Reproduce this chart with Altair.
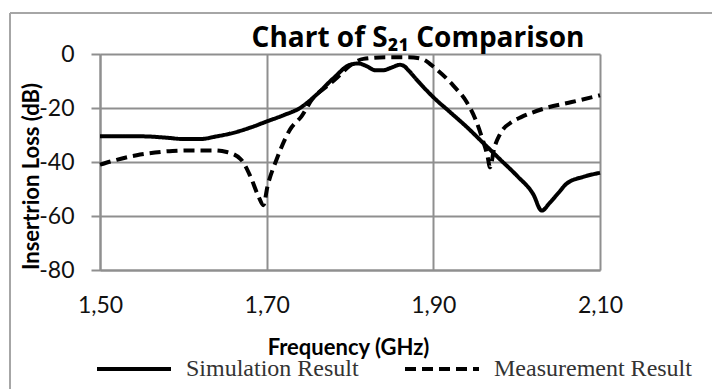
import altair as alt
import pandas as pd

# ---- data ----
sim_f = [1.50, 1.55, 1.58, 1.60, 1.62, 1.64, 1.66, 1.68, 1.70, 1.72, 1.74, 1.76, 1.78,
         1.80, 1.81, 1.82, 1.83, 1.84, 1.85, 1.86, 1.865, 1.87, 1.88, 1.90, 1.92, 1.94,
         1.96, 1.98, 2.00, 2.02, 2.03, 2.04, 2.05, 2.06, 2.08, 2.10]
sim_db = [-30.5, -30.5, -31, -31.5, -31.5, -30.5, -29.2, -27.3, -25, -22.7, -20, -15, -9,
          -4, -3.5, -4.5, -6, -6, -5, -4, -4.5, -6, -9.5, -16, -21.5, -27,
          -33, -39, -45, -52, -58, -55, -51.5, -48, -45.5, -44]

meas_f = [1.50, 1.52, 1.544, 1.566, 1.587, 1.61, 1.636, 1.652, 1.669, 1.68, 1.69, 1.696,
          1.701, 1.712, 1.728, 1.742, 1.755, 1.77, 1.783, 1.80, 1.816, 1.843, 1.87, 1.886,
          1.903, 1.924, 1.94, 1.951, 1.959, 1.965, 1.968, 1.973, 1.98, 1.995, 2.006, 2.033,
          2.066, 2.10]
meas_db = [-41, -39.2, -37.5, -36.5, -35.9, -35.7, -35.7, -36.3, -39, -45, -52.6, -56,
           -49, -39, -28, -23, -16.6, -12.5, -9.2, -4.3, -1.8, -1.2, -1.2, -1.8,
           -5.5, -11.7, -17.8, -24.5, -31.6, -37.8, -42, -35, -29.7, -25, -23.3, -20.2,
           -17.8, -15.3]

series_names = ["Simulation Result", "Measurement Result"]
x_ticks = [1.5, 1.7, 1.9, 2.1]
y_ticks = [0, -20, -40, -60, -80]
chart_title = "Chart of S₂₁ Comparison"

df = pd.concat([
    pd.DataFrame({"f": sim_f, "db": sim_db, "s": series_names[0]}),
    pd.DataFrame({"f": meas_f, "db": meas_db, "s": series_names[1]}),
])

GRID = "#8f8f8f"

lines = alt.Chart(df).mark_line(strokeWidth=4, color="black", interpolate="monotone").encode(
    x=alt.X("f:Q", scale=alt.Scale(domain=[1.5, 2.1], nice=False, zero=False),
            axis=alt.Axis(values=x_ticks, labelExpr="replace(format(datum.value, '.2f'), '.', ',')",
                          title="Frequency (GHz)", grid=True, gridColor=GRID, gridWidth=2,
                          domainColor=GRID, domainWidth=2, ticks=False, labelFlush=False,
                          labelFont="Lato", labelFontSize=23, labelColor="#111",
                          labelPadding=24, titleFont="Lato", titleFontSize=22,
                          titleFontWeight="bold", titleColor="black",
                          titleX=248, titleY=84, titleBaseline="alphabetic")),
    y=alt.Y("db:Q", scale=alt.Scale(domain=[-80, 0], nice=False),
            axis=alt.Axis(values=y_ticks, title="Insertrion Loss (dB)", grid=True,
                          labelExpr="datum.value + ''", labelFlush=False,
                          gridColor=GRID, gridWidth=2, domainColor=GRID, domainWidth=2,
                          ticks=True, tickSize=9, tickColor=GRID, tickWidth=2,
                          labelFont="Lato", labelFontSize=23, labelColor="#111",
                          labelPadding=17, titleFont="Lato", titleFontSize=22,
                          titleFontWeight="bold", titleColor="black",
                          titleX=-69, titleY=122, titleAngle=270, titleAlign="center",
                          titleBaseline="middle")),
    strokeDash=alt.StrokeDash("s:N", scale=alt.Scale(domain=series_names, range=[[1, 0], [11, 6]]),
                              legend=alt.Legend(title=None, orient="none", direction="horizontal",
                                                legendX=-5, legendY=276, symbolType="stroke",
                                                symbolSize=5476, symbolStrokeWidth=4,
                                                symbolStrokeColor="black", labelOffset=13,
                                                columnPadding=38, padding=0,
                                                labelFont="Liberation Serif", labelFontSize=24,
                                                labelColor="#333", labelLimit=400)),
)

one = pd.DataFrame({"k": [0]})
frame_left = alt.Chart(one).mark_rule(color="#a6a6a6", strokeWidth=2).encode(
    x=alt.value(-90), y=alt.value(-41), y2=alt.value(345))
frame_top = alt.Chart(one).mark_rule(color="#a6a6a6", strokeWidth=2).encode(
    x=alt.value(-90), x2=alt.value(620), y=alt.value(-41))
title_text = alt.Chart(one).mark_text(text=chart_title, font="Open Sans", fontSize=28,
                                      fontWeight="bold", color="black", align="center",
                                      baseline="alphabetic").encode(
    x=alt.value(318), y=alt.value(-7))

chart = alt.layer(frame_left, frame_top, title_text, lines).properties(
    width=500, height=216,
    padding={"left": 100, "top": 54, "right": 112, "bottom": 119},
    autosize=alt.AutoSizeParams(type="none"),
    background="white",
).configure_view(stroke=None)

chart.save("out.html", embed_options={"renderer": "svg", "actions": False})
